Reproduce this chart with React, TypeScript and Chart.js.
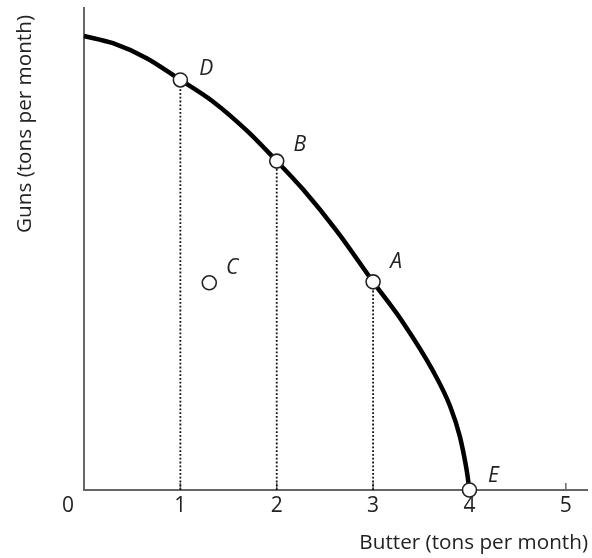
import React, { useEffect, useRef } from "react";
import { Chart, registerables } from "chart.js";

Chart.register(...registerables);

// Production possibilities frontier
const curveButter = [0, 0.3, 0.65, 1, 1.34, 1.69, 2, 2.27, 2.62, 3, 3.31, 3.62, 3.8, 3.9, 3.97, 4];
const curveGuns = [9.4, 9.25, 8.94, 8.49, 8.04, 7.44, 6.81, 6.23, 5.37, 4.31, 3.47, 2.47, 1.73, 1.11, 0.42, 0];

const pointLabels = ["D", "B", "A", "C", "E"];
const pointButter = [1, 2, 3, 1.3, 4];
const pointGuns = [8.49, 6.81, 4.31, 4.29, 0];

const dottedLabels = ["D", "B", "A"];
const xTickLabels = ["0", "1", "2", "3", "4", "5"];
const xTitle = "Butter (tons per month)";
const yTitle = "Guns (tons per month)";

const FONT = "'Open Sans', 'DejaVu Sans', sans-serif";

export default function App() {
  const ref = useRef<HTMLCanvasElement | null>(null);

  useEffect(() => {
    const canvas = ref.current;
    if (!canvas) return;

    const dotted = dottedLabels.map((lab) => {
      const i = pointLabels.indexOf(lab);
      return {
        label: "guide " + lab,
        data: [
          { x: pointButter[i], y: 0 },
          { x: pointButter[i], y: pointGuns[i] },
        ],
        showLine: true,
        borderColor: "#111",
        borderWidth: 1.8,
        borderDash: [1.8, 2],
        pointRadius: 0,
        clip: false as const,
        order: 3,
      };
    });

    const overlay = {
      id: "overlay",
      beforeDatasetsDraw(chart: any) {
        const { ctx, chartArea, scales } = chart;
        const x = scales.x;
        const y = scales.y;
        const ox = x.getPixelForValue(0);
        const oy = y.getPixelForValue(0);
        ctx.save();
        ctx.strokeStyle = "#666";
        ctx.lineWidth = 2;
        ctx.beginPath();
        ctx.moveTo(ox, chartArea.top);
        ctx.lineTo(ox, oy);
        ctx.lineTo(chartArea.right, oy);
        ctx.stroke();
        ctx.lineWidth = 1.5;
        for (let v = 1; v <= 5; v++) {
          const px = x.getPixelForValue(v);
          ctx.beginPath();
          ctx.moveTo(px, oy);
          ctx.lineTo(px, oy - 7);
          ctx.stroke();
        }
        ctx.restore();
      },
      afterDraw(chart: any) {
        const { ctx, scales } = chart;
        const x = scales.x;
        const y = scales.y;
        const ox = x.getPixelForValue(0);
        const oy = y.getPixelForValue(0);
        ctx.save();
        ctx.fillStyle = "#222";
        ctx.font = `21px ${FONT}`;
        ctx.textAlign = "center";
        ctx.textBaseline = "middle";
        xTickLabels.forEach((t, i) => {
          const v = Number(t);
          const px = i === 0 ? ox - 16 : x.getPixelForValue(v);
          ctx.fillText(t, px, oy + 16);
        });
        ctx.font = `20.7px ${FONT}`;
        ctx.textAlign = "right";
        ctx.textBaseline = "alphabetic";
        ctx.fillText(xTitle, chart.width - 4, 549);
        ctx.save();
        ctx.translate(31, 233);
        ctx.rotate(-Math.PI / 2);
        ctx.textAlign = "left";
        ctx.fillText(yTitle, 0, 0);
        ctx.restore();

        ctx.font = `italic 21px ${FONT}`;
        ctx.textAlign = "center";
        ctx.textBaseline = "middle";
        const offs: Record<string, [number, number]> = {
          D: [26, -11],
          B: [23, -16],
          A: [23, -20],
          C: [23, -15],
          E: [24, -14],
        };
        pointLabels.forEach((lab, i) => {
          const px = x.getPixelForValue(pointButter[i]);
          const py = y.getPixelForValue(pointGuns[i]);
          const o = offs[lab] || [20, -14];
          ctx.fillText(lab, px + o[0], py + o[1]);
        });
        ctx.restore();
      },
    };

    const chart = new Chart(canvas, {
      type: "scatter",
      data: {
        datasets: [
          {
            label: "points",
            data: pointLabels.map((_, i) => ({ x: pointButter[i], y: pointGuns[i] })),
            showLine: false,
            pointRadius: 7,
            pointBackgroundColor: "#fff",
            pointBorderColor: "#222",
            pointBorderWidth: 1.6,
            clip: false as const,
            order: 1,
          },
          {
            label: "PPF",
            data: curveButter.map((b, i) => ({ x: b, y: curveGuns[i] })),
            showLine: true,
            borderColor: "#000",
            borderWidth: 4.5,
            cubicInterpolationMode: "monotone" as const,
            pointRadius: 0,
            clip: false as const,
            order: 2,
          },
          ...dotted,
        ],
      },
      options: {
        responsive: false,
        animation: false,
        events: [],
        layout: { autoPadding: false, padding: { left: 84, right: 4, top: 7, bottom: 68 } },
        plugins: { legend: { display: false }, tooltip: { enabled: false } },
        scales: {
          x: { type: "linear", display: false, min: 0, max: 5.23 },
          y: { type: "linear", display: false, min: 0, max: 10 },
        },
      },
      plugins: [overlay],
    });
    return () => chart.destroy();
  }, []);

  return (
    <div style={{ position: "fixed", left: 0, top: 0, width: 592, height: 558, background: "#fff" }}>
      <canvas ref={ref} width={592} height={558} style={{ display: "block" }} />
    </div>
  );
}
